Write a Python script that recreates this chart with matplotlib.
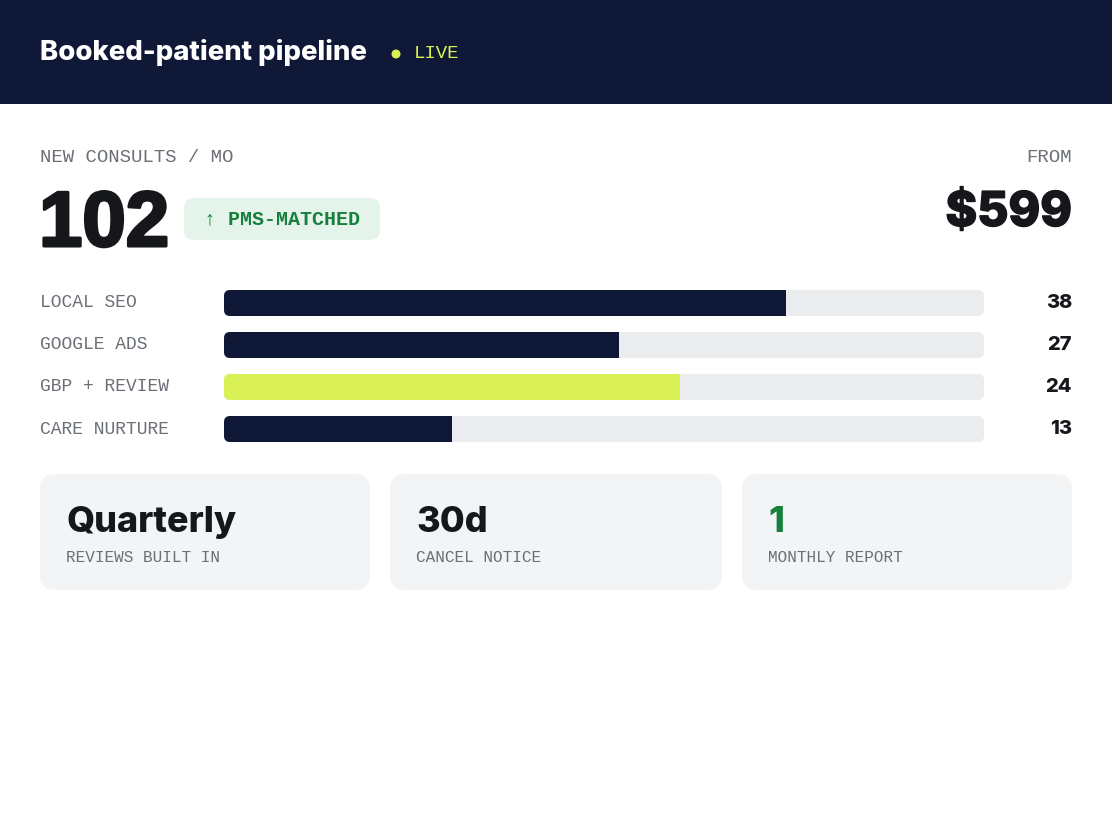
#!/usr/bin/env python3

import matplotlib
matplotlib.use("Agg")
import matplotlib.pyplot as plt
from matplotlib.patches import FancyBboxPatch, Rectangle, Circle
from matplotlib import transforms
import matplotlib.patheffects as pe

# data
title = "Booked-patient pipeline"
status = "LIVE"
kpi_label = "NEW CONSULTS / MO"
kpi_value = "102"
kpi_badge = "\u2191 PMS-MATCHED"
price_label = "FROM"
price_value = "$599"

channels = ["LOCAL SEO", "GOOGLE ADS", "GBP + REVIEW", "CARE NURTURE"]
counts = [38, 27, 24, 13]
fill_pct = [74, 52, 60, 30]  # bar fill, percent of track
highlight = [False, False, True, False]

card_values = ["Quarterly", "30d", "1"]
card_labels = ["REVIEWS BUILT IN", "CANCEL NOTICE", "MONTHLY REPORT"]
card_green = [False, False, True]

# colours
NAVY = "#0f1836"
LIME = "#d9f154"
TRACK = "#ebecee"
INK = "#16171b"
GREY = "#6b6f76"
GREEN = "#17803d"
BADGE = "#e5f4ea"
CARD = "#f3f4f6"

SANS = ["Inter", "DejaVu Sans"]
NUM = ["Liberation Sans", "DejaVu Sans"]
MONO = ["Liberation Mono", "DejaVu Sans Mono"]

W, H = 1112, 840
fig = plt.figure(figsize=(W / 100, H / 100), dpi=100)
ax = fig.add_axes([0, 0, 1, 1])
ax.set_xlim(0, W)
ax.set_ylim(H, 0)
ax.axis("off")

def px(v):
    # pixel size -> points
    return v * 0.72

# header
ax.add_patch(Rectangle((0, 0), W, 104, color=NAVY, lw=0))
ax.text(40, 53, title, color="white", fontsize=px(27.5), fontweight=800,
        family=SANS, va="center", ha="left")
ax.add_patch(Circle((396, 54), 4.5, color=LIME, lw=0))
ax.text(414, 54, status, color=LIME, fontsize=px(19), family=MONO,
        va="center", ha="left")

# kpi row
ax.text(40, 158, kpi_label, color=GREY, fontsize=px(19), family=MONO,
        va="center", ha="left")
ax.text(39, 246, kpi_value, color=INK, fontsize=px(78), fontweight="bold",
        family=NUM, va="baseline", ha="left",
        path_effects=[pe.withStroke(linewidth=2.2, foreground=INK)])
ax.add_patch(FancyBboxPatch((184, 198), 196, 42,
                            boxstyle="round,pad=0,rounding_size=10",
                            fc=BADGE, ec="none"))
ax.text(282, 219, kpi_badge, color=GREEN, fontsize=px(20), fontweight="bold",
        family=MONO, va="center", ha="center")

ax.text(1072, 158, price_label, color=GREY, fontsize=px(19), family=MONO,
        va="center", ha="right")
ax.text(1072, 226, price_value, color=INK, fontsize=px(48), fontweight=800,
        family=SANS, va="baseline", ha="right",
        path_effects=[pe.withStroke(linewidth=1.0, foreground=INK)])

# bars
track_x0, track_x1 = 224, 984
row_h = 42
bars_top = 282
bax = fig.add_axes([track_x0 / W, 1 - (bars_top + row_h * len(channels)) / H,
                    (track_x1 - track_x0) / W, row_h * len(channels) / H])
bax.set_xlim(0, 100)
bax.set_ylim(len(channels) - 0.5, -0.5)
bax.axis("off")

bar_h = 26 / row_h
x_per_px = 100 / (track_x1 - track_x0)
y_per_px = 1 / row_h
aspect = y_per_px / x_per_px
rad = 6 * x_per_px

lab = transforms.blended_transform_factory(ax.transData, bax.transData)

for i, (name, n, pct, hl) in enumerate(zip(channels, counts, fill_pct, highlight)):
    bax.add_patch(FancyBboxPatch((0, i - bar_h / 2), 100, bar_h,
                                 boxstyle=f"round,pad=0,rounding_size={rad}",
                                 mutation_aspect=aspect, fc=TRACK, ec="none"))
    # fill: rounded left end, square right end (clip a full rounded bar)
    fill = FancyBboxPatch((0, i - bar_h / 2), 100, bar_h,
                          boxstyle=f"round,pad=0,rounding_size={rad}",
                          mutation_aspect=aspect,
                          fc=LIME if hl else NAVY, ec="none")
    bax.add_patch(fill)
    clip = Rectangle((0, i - bar_h / 2), pct, bar_h, transform=bax.transData)
    fill.set_clip_path(clip)
    bax.text(40, i, name, transform=lab, color=GREY, fontsize=px(18),
             family=MONO, va="center", ha="left", clip_on=False)
    bax.text(1072, i, str(n), transform=lab, color=INK, fontsize=px(20),
             fontweight=800, family=SANS, va="center", ha="right",
             clip_on=False)

# cards
card_x = [40, 390, 742]
card_w = [330, 332, 330]
for cx, cw, val, lbl, g in zip(card_x, card_w, card_values, card_labels, card_green):
    ax.add_patch(FancyBboxPatch((cx, 474), cw, 116,
                                boxstyle="round,pad=0,rounding_size=16",
                                fc=CARD, ec="none"))
    ax.text(cx + 26, 532, val, color=GREEN if g else INK, fontsize=px(36),
            fontweight=800, family=SANS, va="baseline", ha="left")
    ax.text(cx + 26, 558, lbl, color=GREY, fontsize=px(16), family=MONO,
            va="center", ha="left")

fig.savefig("out.png", dpi=100, facecolor="white")
